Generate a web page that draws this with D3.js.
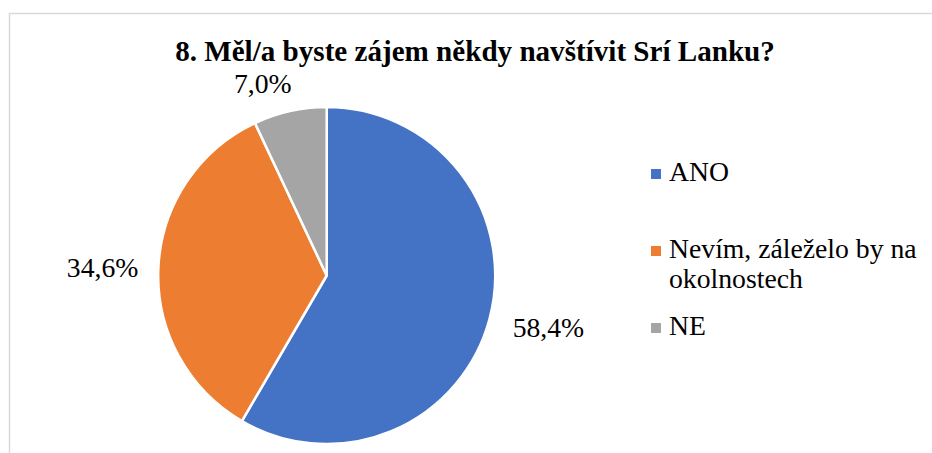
<!DOCTYPE html>
<html>
<head>
<meta charset="utf-8">
<script src="https://cdn.jsdelivr.net/npm/d3@7"></script>
<style>
  html, body { margin: 0; padding: 0; background: #fff; }
  svg { display: block; }
</style>
</head>
<body>
<svg id="chart" width="932" height="453"></svg>
<script>
const title = "8. Měl/a byste zájem někdy navštívit Srí Lanku?";
const categories = ["ANO", "Nevím, záleželo by na okolnostech", "NE"];
const legendLines = [["ANO"], ["Nevím, záleželo by na", "okolnostech"], ["NE"]];
const values = [58.4, 34.6, 7.0];
const labels = ["58,4%", "34,6%", "7,0%"];
const colors = ["#4472C4", "#ED7D31", "#A5A5A5"];

const svg = d3.select("#chart");
const font = "\"Liberation Serif\", \"Times New Roman\", serif";
const fs = "27.7px";

// chart border (cropped on right and bottom)
svg.append("rect")
  .attr("x", 9.5).attr("y", 13.5)
  .attr("width", 940).attr("height", 460)
  .attr("fill", "#fff")
  .attr("stroke", "#d9d9d9").attr("stroke-width", 1.5);

// title
svg.append("text")
  .attr("x", 475).attr("y", 61)
  .attr("text-anchor", "middle")
  .style("font-family", font)
  .style("font-weight", "bold")
  .style("font-size", "29.1px")
  .attr("fill", "#000")
  .text(title);

// pie
const cx = 326.7, cy = 275.5, r = 168.5;
const pie = d3.pie().sort(null).value(d => d)(values);
const arc = d3.arc().innerRadius(0).outerRadius(r);
const g = svg.append("g").attr("transform", `translate(${cx},${cy})`);

g.selectAll("path.slice")
  .data(pie)
  .join("path")
  .attr("class", "slice")
  .attr("d", arc)
  .attr("fill", (d, i) => colors[i])
  .attr("stroke", "#fff")
  .attr("stroke-width", 2.5)
  .attr("stroke-linejoin", "round");

// data labels (outside end)
const gap = 20;
g.selectAll("text.lbl")
  .data(pie)
  .join("text")
  .attr("class", "lbl")
  .each(function(d, i) {
    const a = (d.startAngle + d.endAngle) / 2;
    const dx = Math.sin(a), dy = -Math.cos(a);
    const R = r + gap;
    let x = R * dx, y = R * dy;
    const anchor = dx < 0 ? "end" : "start";
    if (dx > 0) { x += 4; y += 3; }
    if (Math.abs(dx) < 0.4) x += 6;      // near-vertical labels nudged toward the slice
    let yy;
    if (dy < -0.5) yy = y + 1.5;        // text sits above the point
    else if (dy > 0.5) yy = y + 19;     // text hangs below
    else yy = y + 9.5;                  // vertically centred
    d3.select(this)
      .attr("x", x).attr("y", yy)
      .attr("text-anchor", anchor)
      .style("font-family", font)
      .style("font-size", fs)
      .attr("fill", "#000")
      .text(labels[i]);
  });

// legend
const ly = d3.scaleLinear().domain([0, 1]).range([181, 258]);
const items = svg.append("g").selectAll("g.item")
  .data(categories)
  .join("g")
  .attr("class", "item")
  .attr("transform", (d, i) => `translate(0,${ly(i)})`);

items.append("rect")
  .attr("x", 651).attr("y", -12)
  .attr("width", 10).attr("height", 10)
  .attr("fill", (d, i) => colors[i]);

items.append("text")
  .style("font-family", font)
  .style("font-size", fs)
  .attr("fill", "#000")
  .each(function(d, i) {
    d3.select(this).selectAll("tspan")
      .data(legendLines[i])
      .join("tspan")
      .attr("x", 669)
      .attr("y", (t, j) => j * 30)
      .text(t => t);
  });
</script>
</body>
</html>
